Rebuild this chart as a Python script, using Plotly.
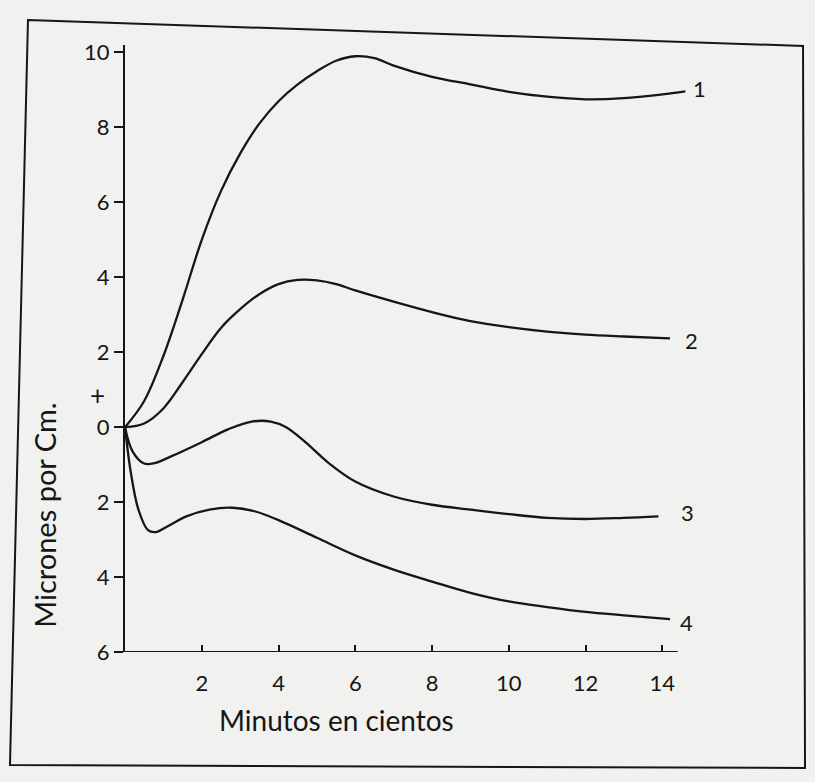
import plotly.graph_objects as go

# Expansion curves (microns per cm) vs time (hundreds of minutes)
x1 = [0, 0.5, 1.0, 1.5, 2.0, 2.5, 3.0, 3.5, 4.0, 4.5, 5.0, 5.5, 6.0, 6.5, 7.0, 8.0, 9.0, 10.0, 11.0, 12.0, 13.0, 14.0, 14.6]
y1 = [0, 0.7, 1.9, 3.4, 5.0, 6.3, 7.3, 8.1, 8.7, 9.15, 9.5, 9.78, 9.9, 9.85, 9.65, 9.35, 9.15, 8.95, 8.82, 8.75, 8.78, 8.88, 8.96]

x2 = [0, 0.5, 1.0, 1.5, 2.0, 2.5, 3.0, 3.5, 4.0, 4.5, 5.0, 5.5, 6.0, 7.0, 8.0, 9.0, 10.0, 11.0, 12.0, 13.0, 14.2]
y2 = [0, 0.1, 0.5, 1.2, 1.95, 2.65, 3.15, 3.55, 3.82, 3.93, 3.92, 3.82, 3.65, 3.35, 3.07, 2.83, 2.67, 2.55, 2.47, 2.42, 2.37]

x3 = [0, 0.2, 0.5, 0.8, 1.2, 2.0, 2.7, 3.3, 3.8, 4.2, 4.7, 5.3, 6.0, 7.0, 8.0, 9.0, 10.0, 11.0, 12.0, 13.0, 13.9]
y3 = [0, -0.65, -0.97, -0.95, -0.78, -0.4, -0.05, 0.15, 0.15, 0.0, -0.4, -0.95, -1.45, -1.85, -2.07, -2.2, -2.32, -2.42, -2.45, -2.42, -2.38]

x4 = [0, 0.15, 0.35, 0.6, 0.8, 1.1, 1.6, 2.2, 2.8, 3.4, 4.0, 5.0, 6.0, 7.0, 8.0, 9.0, 10.0, 11.0, 12.0, 13.0, 14.2]
y4 = [0, -1.2, -2.2, -2.75, -2.8, -2.65, -2.38, -2.2, -2.15, -2.25, -2.48, -2.95, -3.42, -3.8, -4.12, -4.42, -4.65, -4.8, -4.93, -5.02, -5.12]

curve_names = ["1", "2", "3", "4"]

y_tickvals = [10, 8, 6, 4, 2, 0, -2, -4, -6]
y_ticktext = ["10", "8", "6", "4", "2", "0", "2", "4", "6"]
x_tickvals = [2, 4, 6, 8, 10, 12, 14]
x_ticktext = ["2", "4", "6", "8", "10", "12", "14"]

INK = "#161616"
PAPER = "#f1f1ef"
FONT = "Lato"

fig = go.Figure()
for xs, ys, name in zip([x1, x2, x3, x4], [y1, y2, y3, y4], curve_names):
    fig.add_trace(go.Scatter(
        x=xs, y=ys, mode="lines", name=name,
        line=dict(color=INK, width=2.3, shape="spline", smoothing=1.0),
        showlegend=False, hoverinfo="skip",
    ))

# curve numbers at the right-hand ends (paper coordinates, past the plot edge)
label_pos = [(1.0123, 0.929), (0.998, 0.514), (0.991, 0.2306), (0.989, 0.0494)]
annotations = []
for (lx, ly), name in zip(label_pos, curve_names):
    annotations.append(dict(x=lx, y=ly, xref="paper", yref="paper", text=name,
                            showarrow=False, xanchor="center", yanchor="middle",
                            font=dict(family=FONT, size=22, color=INK)))

# sign marker above zero
annotations.append(dict(x=-0.048, y=0.423, xref="paper", yref="paper", text="+",
                        showarrow=False, xanchor="center", yanchor="middle",
                        font=dict(family=FONT, size=26, color=INK)))

# axis titles
annotations.append(dict(x=-0.141, y=0.226, xref="paper", yref="paper",
                        text="Micrones por Cm.", textangle=-90, showarrow=False,
                        xanchor="center", yanchor="middle",
                        font=dict(family=FONT, size=29, color=INK)))
annotations.append(dict(x=0.373, y=-0.112, xref="paper", yref="paper",
                        text="Minutos en cientos", showarrow=False,
                        xanchor="center", yanchor="middle",
                        font=dict(family=FONT, size=28, color=INK)))

shapes = [
    # horizontal axis line, ending just past 14
    dict(type="line", xref="x", yref="y", x0=0, x1=14.4, y0=-6, y1=-6,
         line=dict(color=INK, width=2.2)),
    # outer hand-drawn frame
    dict(type="path", xref="paper", yref="paper",
         path="M -0.1708 1.0412 L 1.1937 0.9984 L 1.1972 -0.1911 L -0.2025 -0.1862 Z",
         line=dict(color=INK, width=2), fillcolor="rgba(0,0,0,0)"),
]

fig.update_layout(
    width=815, height=782,
    margin=dict(l=125, r=122, t=45, b=130),
    paper_bgcolor=PAPER, plot_bgcolor=PAPER,
    annotations=annotations, shapes=shapes,
    xaxis=dict(range=[0, 14.8], showgrid=False, zeroline=False, showline=False,
               tickmode="array", tickvals=x_tickvals, ticktext=x_ticktext,
               ticks="inside", ticklen=7, tickwidth=1.6, tickcolor=INK,
               ticklabelstandoff=16,
               tickfont=dict(family=FONT, size=22, color=INK)),
    yaxis=dict(range=[-6, 10.2], showgrid=False, zeroline=False,
               showline=True, linecolor=INK, linewidth=2.2,
               tickmode="array", tickvals=y_tickvals, ticktext=y_ticktext,
               ticks="outside", ticklen=9, tickwidth=2, tickcolor=INK,
               tickfont=dict(family=FONT, size=22, color=INK)),
)

fig.write_html("out.html")
